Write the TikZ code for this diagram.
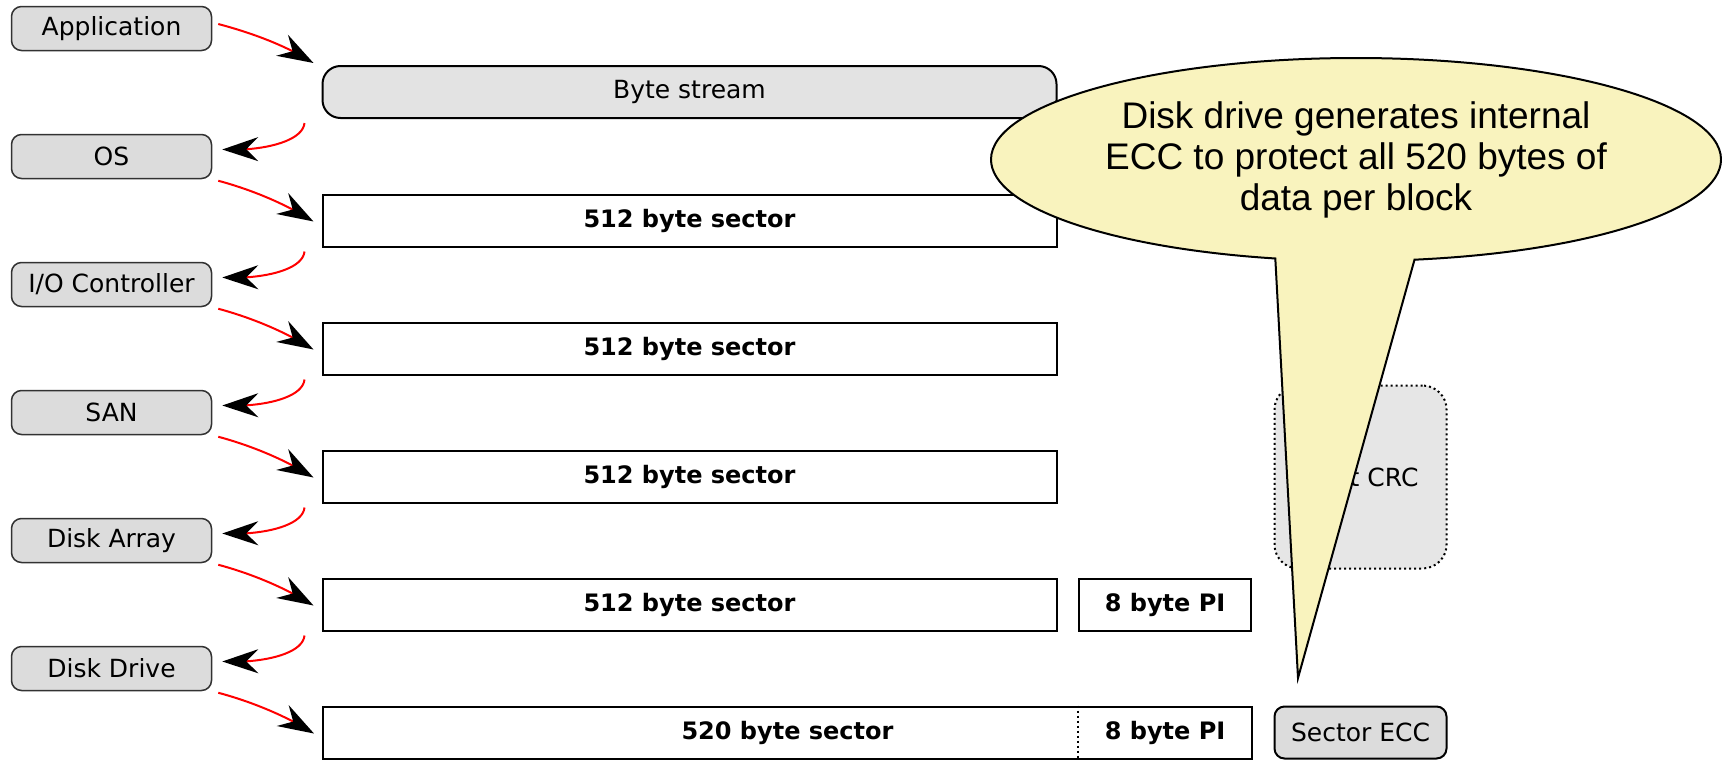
\documentclass[tikz,border=0pt]{standalone}
\usepackage{fontspec}
\setmainfont{DejaVu Sans}
\newfontfamily\calloutfont{Liberation Sans}
\usepackage{tikz}
\usetikzlibrary{arrows.meta, bending, positioning, shapes.callouts}
\usepackage{xcolor}
\definecolor{labelgray}{RGB}{220,220,220}
\definecolor{streamgray}{RGB}{227,227,227}
\definecolor{crcgray}{RGB}{230,230,230}
\definecolor{noteyellow}{RGB}{249,243,190}
\definecolor{edgegray}{RGB}{50,50,50}

\begin{document}
\begin{tikzpicture}[x=0.5pt, y=-0.5pt,
    layerbox/.style={draw=edgegray, line width=0.75pt, fill=labelgray,
                     rounded corners=5pt, minimum width=100pt, minimum height=22pt,
                     inner sep=0pt, font=\fontsize{12.5}{15}\selectfont},
    sectorbox/.style={draw, line width=1pt, minimum height=26pt, inner sep=0pt,
                      font=\fontsize{12}{14}\selectfont\bfseries},
    dotline/.style={line width=1pt, dash pattern=on 1pt off 1.5pt},
    flowarrow/.style={red, line width=1pt,
                      -{Stealth[length=18pt, width=12pt, inset=6pt, color=black]}}]
  \useasboundingbox (0,0) rectangle (1722,760);

  %--- layers ---
  \node[layerbox] (app)   at (111.5, 28.5) {Application};
  \node[layerbox] (os)    at (111.5,156.5) {OS};
  \node[layerbox] (ioc)   at (111.5,284.5) {I/O Controller};
  \node[layerbox] (san)   at (111.5,412.5) {SAN};
  \node[layerbox] (array) at (111.5,540.5) {Disk Array};
  \node[layerbox] (drive) at (111.5,668.5) {Disk Drive};

  %--- data format seen by each layer ---
  \node[sectorbox, fill=streamgray, rounded corners=9pt, minimum width=367pt,
        font=\fontsize{12.5}{15}\selectfont] (stream) at (689.5,92) {Byte stream};
  \node[sectorbox, minimum width=367pt] (s1) at (689.5,220.5) {512 byte sector};
  \node[sectorbox, minimum width=367pt] (s2) at (689.5,348.5) {512 byte sector};
  \node[sectorbox, minimum width=367pt] (s3) at (689.5,476.5) {512 byte sector};
  \node[sectorbox, minimum width=367pt] (s4) at (689.5,604.5) {512 byte sector};
  \node[sectorbox, minimum width=86pt] (pi) at (1165,604.5) {8 byte PI};

  %--- on the platter ---
  \node[sectorbox, minimum width=464.5pt] (s520) at (787.5,732.5) {520 byte sector};
  \draw[dotline] (pi.west |- s520.north) -- (pi.west |- s520.south);
  \node[font=\fontsize{12}{14}\selectfont\bfseries] (pi520)
    at (pi.center |- s520.center) {8 byte PI};
  \node[draw, line width=1pt, fill=labelgray, rounded corners=5pt,
        minimum width=86pt, minimum height=26pt,
        font=\fontsize{12.5}{15}\selectfont] (ecc) at (1360.5,732.5) {Sector ECC};
  \node[draw, dotline, fill=crcgray, rounded corners=12pt,
        minimum width=86pt, minimum height=91.5pt,
        font=\fontsize{12.5}{15}\selectfont] (crc) at (1360.5,477) {Host CRC};

  %--- down the stack ---
  \draw[flowarrow] ([shift={(6,-4.5)}]app.east) .. controls +(30,8) and +(-30,-19) .. ([shift={(-8,-2)}]stream.north west);
  \draw[flowarrow] ([shift={(6,1.5)}]os.south east) .. controls +(30,8) and +(-30,-19) .. ([shift={(-8,1)}]s1.west);
  \draw[flowarrow] ([shift={(6,1.5)}]ioc.south east) .. controls +(30,8) and +(-30,-19) .. ([shift={(-8,1)}]s2.west);
  \draw[flowarrow] ([shift={(6,1.5)}]san.south east) .. controls +(30,8) and +(-30,-19) .. ([shift={(-8,1)}]s3.west);
  \draw[flowarrow] ([shift={(6,1.5)}]array.south east) .. controls +(30,8) and +(-30,-19) .. ([shift={(-8,1)}]s4.west);
  \draw[flowarrow] ([shift={(6,1.5)}]drive.south east) .. controls +(30,8) and +(-30,-19) .. ([shift={(-8,1)}]s520.west);

  %--- handed on to the next layer ---
  \draw[flowarrow] ([shift={(-17,4)}]stream.south west) .. controls +(-2,20) and +(35,2) .. ([shift={(10,-7)}]os.east);
  \draw[flowarrow] ([shift={(-17,4)}]s1.south west) .. controls +(-2,20) and +(35,2) .. ([shift={(10,-7)}]ioc.east);
  \draw[flowarrow] ([shift={(-17,4)}]s2.south west) .. controls +(-2,20) and +(35,2) .. ([shift={(10,-7)}]san.east);
  \draw[flowarrow] ([shift={(-17,4)}]s3.south west) .. controls +(-2,20) and +(35,2) .. ([shift={(10,-7)}]array.east);
  \draw[flowarrow] ([shift={(-17,4)}]s4.south west) .. controls +(-2,20) and +(35,2) .. ([shift={(10,-7)}]drive.east);

  %--- callout ---
  \node[ellipse callout, draw, line width=1pt, fill=noteyellow,
        minimum width=365pt, minimum height=101.5pt,
        callout absolute pointer={(1298,678)}, callout pointer arc=22,
        align=center, font=\calloutfont\fontsize{18.5}{20.5}\selectfont] (note)
    at (1356,159.5) {Disk drive generates internal\\ECC to protect all 520 bytes of\\data per block};
\end{tikzpicture}
\end{document}
